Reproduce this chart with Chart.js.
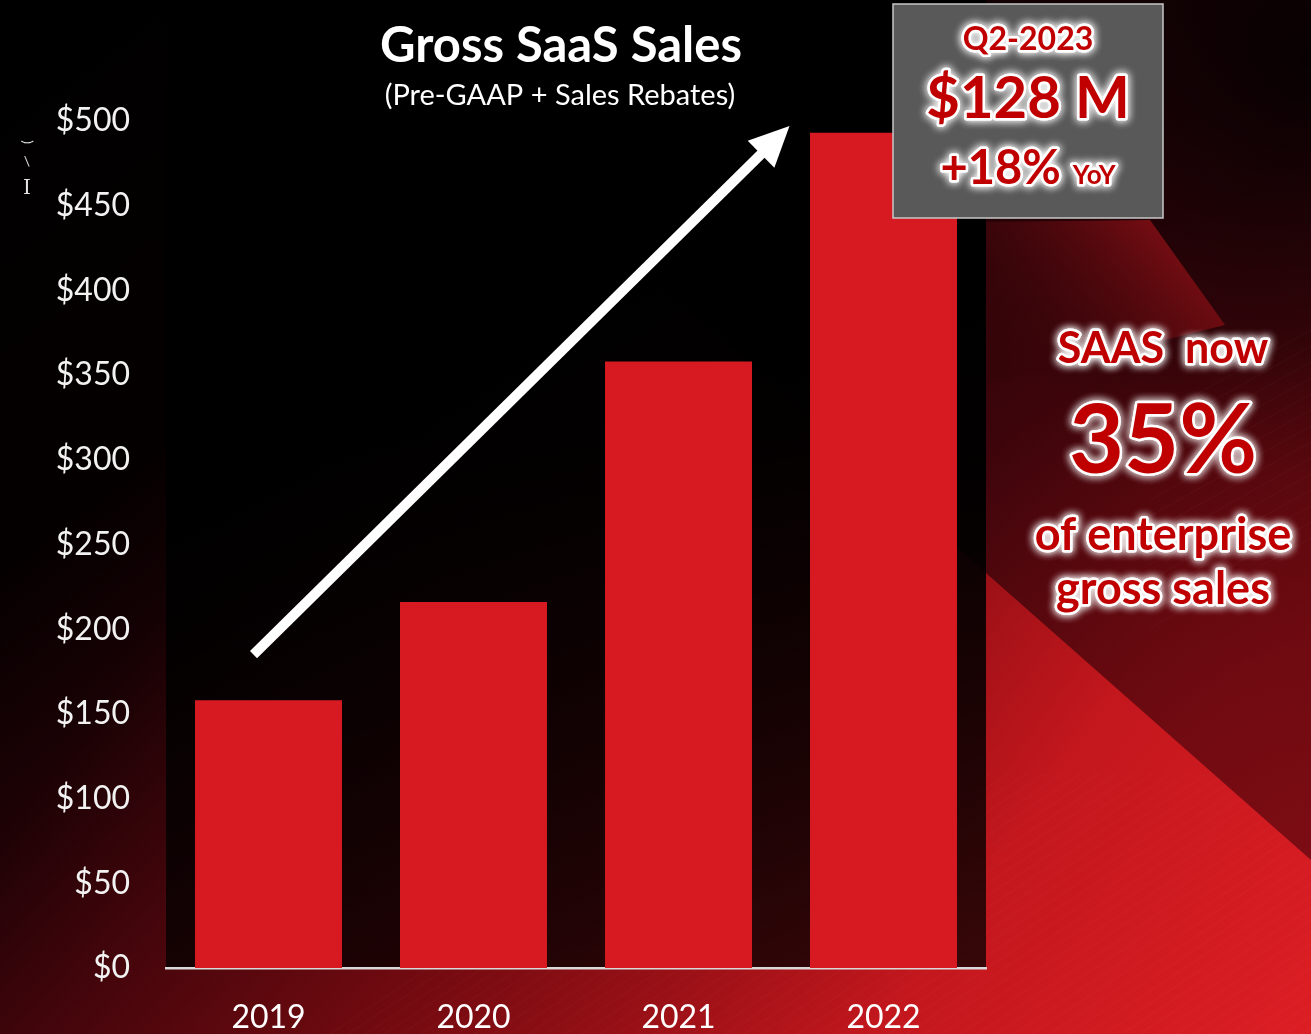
<!DOCTYPE html>
<html><head><meta charset="utf-8">
<script src="https://cdn.jsdelivr.net/npm/chart.js@4/dist/chart.umd.min.js"></script>
<style>html,body{margin:0;padding:0;background:#000;overflow:hidden}#wrap{width:1311px;height:1034px;position:relative}</style>
</head><body><div id="wrap"><canvas id="c" width="1311" height="1034"></canvas></div>
<script>
// ---- data ----
const categories = ['2019', '2020', '2021', '2022'];
const saasSales = [158, 216, 358, 493];
const yMin = 0, yMax = 500, yStep = 50;
const chartTitle = 'Gross SaaS Sales';
const chartSubtitle = '(Pre-GAAP + Sales Rebates)';
const calloutPeriod = 'Q2-2023';
const calloutValue = '$128 M';
const calloutGrowth = '+18%';
const calloutGrowthUnit = 'YoY';
const sideNote = ['SAAS  now', '35%', 'of enterprise', 'gross sales'];

const FONT = 'Lato, Carlito, "Open Sans", sans-serif';
const TEXT_RED = '#c00000';

function glowText(ctx, txt, x, y, font, align) {
  ctx.save();
  ctx.font = font;
  ctx.textAlign = align || 'center';
  ctx.textBaseline = 'alphabetic';
  ctx.lineJoin = 'round';
  ctx.shadowColor = 'rgba(255,255,255,1)';
  ctx.shadowBlur = 8;
  ctx.strokeStyle = 'rgba(255,255,255,0.92)';
  ctx.lineWidth = 5;
  ctx.strokeText(txt, x, y);
  ctx.strokeText(txt, x, y);
  ctx.shadowBlur = 0;
  ctx.fillStyle = TEXT_RED;
  ctx.fillText(txt, x, y);
  ctx.restore();
}

const backgroundPlugin = {
  id: 'bg',
  beforeDraw(chart) {
    const ctx = chart.ctx, W = chart.width, H = chart.height, ca = chart.chartArea;
    ctx.save();
    // base
    let g = ctx.createLinearGradient(0, 0, W * 0.6, H);
    g.addColorStop(0, '#000000');
    g.addColorStop(0.35, '#050000');
    g.addColorStop(0.65, '#33040a');
    g.addColorStop(1, '#5a080d');
    ctx.fillStyle = g;
    ctx.fillRect(0, 0, W, H);
    // darken top-right corner
    let d = ctx.createRadialGradient(W, 60, 0, W, 60, 420);
    d.addColorStop(0, 'rgba(0,0,0,0.85)');
    d.addColorStop(1, 'rgba(0,0,0,0)');
    ctx.fillStyle = d;
    ctx.fillRect(0, 0, W, H);
    // dark red glow near diagonal
    let r = ctx.createRadialGradient(W, 860, 0, W, 860, 520);
    r.addColorStop(0, 'rgba(140,14,22,0.7)');
    r.addColorStop(1, 'rgba(140,14,22,0)');
    ctx.fillStyle = r;
    ctx.fillRect(0, 0, W, H);
    // bright swoosh below the diagonal
    ctx.save();
    ctx.beginPath();
    const slope = (860 - 573) / (W - 986);
    ctx.moveTo(-10, 573 - (986 + 10) * slope);
    ctx.lineTo(W, 860);
    ctx.lineTo(W, H);
    ctx.lineTo(-10, H);
    ctx.closePath();
    ctx.clip();
    let b = ctx.createLinearGradient(350, 350, W, H);
    b.addColorStop(0, 'rgba(120,10,15,0)');
    b.addColorStop(0.35, 'rgba(150,14,20,0.55)');
    b.addColorStop(0.7, 'rgba(200,24,30,0.95)');
    b.addColorStop(1, 'rgba(220,30,36,1)');
    ctx.fillStyle = b;
    ctx.fillRect(0, 0, W, H);
    ctx.strokeStyle = 'rgba(255,255,255,0.035)';
    ctx.lineWidth = 1;
    for (let i = 0; i < 60; i++) {
      ctx.beginPath();
      ctx.moveTo(300 + i * 18, H + 20);
      ctx.lineTo(300 + i * 18 + 420, H - 260);
      ctx.stroke();
    }
    ctx.restore();
    // wedge right of plot below callout
    ctx.beginPath();
    ctx.moveTo(986, 222);
    ctx.lineTo(1150, 220);
    ctx.lineTo(1225, 325);
    ctx.lineTo(985, 385);
    ctx.closePath();
    let w = ctx.createLinearGradient(1160, 230, 995, 380);
    w.addColorStop(0, 'rgba(125,14,20,0.9)');
    w.addColorStop(1, 'rgba(40,3,6,0.2)');
    ctx.fillStyle = w;
    ctx.fill();
    ctx.strokeStyle = 'rgba(255,255,255,0.035)';
    for (let i = 0; i < 14; i++) {
      ctx.beginPath();
      ctx.moveTo(1150, 420 + i * 16);
      ctx.lineTo(W, 360 + i * 16 - 30);
      ctx.stroke();
    }
    // dark overlay over plot region
    let o = ctx.createLinearGradient(0, 0, 0, ca.bottom);
    o.addColorStop(0, 'rgba(0,0,0,1)');
    o.addColorStop(0.45, 'rgba(0,0,0,0.97)');
    o.addColorStop(1, 'rgba(0,0,0,0.72)');
    ctx.fillStyle = o;
    ctx.fillRect(ca.left, 0, ca.right - ca.left, ca.bottom);
    ctx.restore();
  }
};

const decorPlugin = {
  id: 'decor',
  afterDatasetsDraw(chart) {
    const ctx = chart.ctx, xs = chart.scales.x, ys = chart.scales.y;
    const x0 = xs.getPixelForValue(0) - 15, y0 = ys.getPixelForValue(185);
    const x1 = xs.getPixelForValue(3) - 94, y1 = ys.getPixelForValue(497);
    const ang = Math.atan2(y1 - y0, x1 - x0);
    const headLen = 40, headW = 19;
    const bx = x1 - headLen * Math.cos(ang), by = y1 - headLen * Math.sin(ang);
    ctx.save();
    ctx.strokeStyle = '#ffffff';
    ctx.lineWidth = 10;
    ctx.beginPath();
    ctx.moveTo(x0, y0);
    ctx.lineTo(bx + 4 * Math.cos(ang), by + 4 * Math.sin(ang));
    ctx.stroke();
    ctx.fillStyle = '#ffffff';
    ctx.beginPath();
    ctx.moveTo(x1, y1);
    ctx.lineTo(bx + headW * Math.sin(ang), by - headW * Math.cos(ang));
    ctx.lineTo(bx - headW * Math.sin(ang), by + headW * Math.cos(ang));
    ctx.closePath();
    ctx.fill();
    ctx.restore();
  },
  afterDraw(chart) {
    const ctx = chart.ctx;
    ctx.save();
    ctx.fillStyle = '#ffffff';
    ctx.textAlign = 'center';
    ctx.textBaseline = 'alphabetic';
    ctx.font = 'bold 49px ' + FONT;
    ctx.fillText(chartTitle, 561, 62);
    ctx.font = '29px ' + FONT;
    ctx.fillText(chartSubtitle, 560, 105);
    // clipped axis-title remnants
    ctx.fillStyle = '#e6e6e6';
    ctx.font = '20px "DejaVu Serif"';
    ctx.fillText('I', 27, 194);
    ctx.save();
    ctx.translate(27, 142);
    ctx.rotate(Math.PI / 2);
    ctx.font = '14px ' + FONT;
    ctx.fillText(')', 0, 4);
    ctx.restore();
    ctx.font = '14px ' + FONT;
    ctx.fillText('\\', 27, 166);
    // callout box
    ctx.fillStyle = '#595959';
    ctx.fillRect(893, 4, 270, 214);
    ctx.strokeStyle = '#c8c8c8';
    ctx.lineWidth = 1.5;
    ctx.strokeRect(893, 4, 270, 214);
    ctx.restore();
    glowText(ctx, calloutPeriod, 1028, 50, 'bold 32px ' + FONT);
    glowText(ctx, calloutValue, 1028, 118, 'bold 58px ' + FONT);
    ctx.save();
    ctx.font = 'bold 47px ' + FONT;
    const wG = ctx.measureText(calloutGrowth).width;
    ctx.font = 'bold 26px ' + FONT;
    const wU = ctx.measureText(calloutGrowthUnit).width;
    ctx.restore();
    const gap = 12, start = 1028 - (wG + gap + wU) / 2;
    glowText(ctx, calloutGrowth, start, 184, 'bold 47px ' + FONT, 'left');
    glowText(ctx, calloutGrowthUnit, start + wG + gap, 184, 'bold 26px ' + FONT, 'left');
    glowText(ctx, sideNote[0], 1163, 363, 'bold 43px ' + FONT);
    glowText(ctx, sideNote[1], 1163, 473, 'bold 95px ' + FONT);
    glowText(ctx, sideNote[2], 1163, 550, 'bold 45px ' + FONT);
    glowText(ctx, sideNote[3], 1163, 604, 'bold 45px ' + FONT);
  }
};

new Chart(document.getElementById('c'), {
  type: 'bar',
  data: {
    labels: categories,
    datasets: [{
      data: saasSales,
      backgroundColor: '#d71a21',
      borderWidth: 0,
      barPercentage: 0.717,
      categoryPercentage: 1.0
    }]
  },
  options: {
    responsive: false,
    devicePixelRatio: 1,
    animation: false,
    layout: { padding: { top: 121, right: 325, left: 0, bottom: 0 } },
    plugins: { legend: { display: false }, tooltip: { enabled: false }, title: { display: false } },
    scales: {
      x: {
        grid: { display: false },
        border: { display: true, color: '#d9d9d9', width: 2.5 },
        ticks: { color: '#ffffff', font: { family: FONT, size: 32 }, padding: 22 },
        afterFit(s) { s.height = 66; }
      },
      y: {
        min: yMin, max: yMax,
        grid: { display: false },
        border: { display: false },
        ticks: {
          stepSize: yStep,
          color: '#f2f2f2',
          font: { family: FONT, size: 32 },
          padding: 28,
          callback: v => '$' + v
        },
        afterFit(s) { s.width = 166; }
      }
    }
  },
  plugins: [backgroundPlugin, decorPlugin]
});
</script>
</body></html>
